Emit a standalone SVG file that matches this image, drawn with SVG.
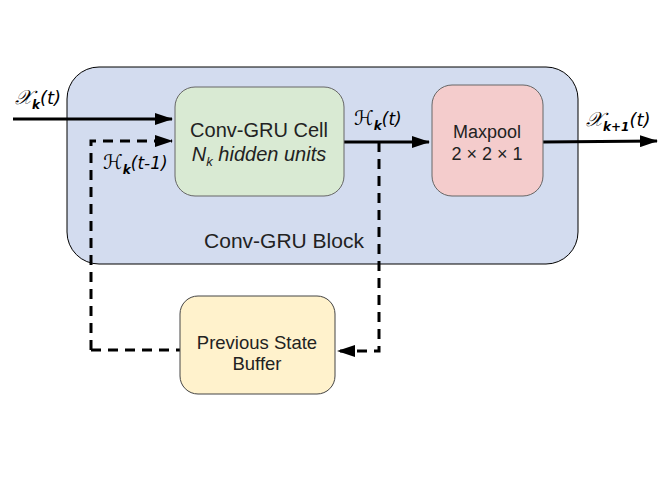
<svg xmlns="http://www.w3.org/2000/svg" width="671" height="496" viewBox="0 0 671 496">
<defs>
<marker id="ahL" markerWidth="18" markerHeight="12" refX="17" refY="6" orient="auto" markerUnits="userSpaceOnUse" viewBox="0 0 18 12">
<path d="M0,0 L18,6 L0,12 Z" fill="#000"/>
</marker>
</defs>
<style>
.t{font-family:"Liberation Sans",Arial,sans-serif;fill:#222;}
.m{font-family:"DejaVu Sans","Liberation Serif",serif;font-style:italic;fill:#000;}
.sol{stroke:#000;stroke-width:3;fill:none;}
.dash{stroke:#000;stroke-width:3;fill:none;stroke-dasharray:10,7;}
</style>
<rect width="671" height="496" fill="#fff"/>
<g id="block">
<rect x="67" y="67" width="511" height="197" rx="32" ry="32" fill="#d3dcef" stroke="#000" stroke-width="1"/>
<text class="t" x="284" y="248" font-size="21" text-anchor="middle">Conv-GRU Block</text>
</g>
<g id="connectors">
<path class="sol" d="M13,119 L172,119" marker-end="url(#ahL)"/>
<path class="dash" d="M91,350 L91,141 L172,141" marker-end="url(#ahL)"/>
<path class="sol" d="M344,142 L429,142" marker-end="url(#ahL)"/>
<path class="sol" d="M543,142 L657,141" marker-end="url(#ahL)"/>
<path class="dash" d="M379,142 L379,351 L338,351" marker-end="url(#ahL)"/>
<path class="dash" d="M91,350 L180,350"/>
</g>
<g id="convgru">
<rect x="175" y="87" width="169" height="109" rx="20" ry="20" fill="#d9ead3" stroke="#666" stroke-width="1"/>
<text class="t" x="259" y="137" font-size="20" text-anchor="middle">Conv-GRU Cell</text>
<text class="t" x="259" y="161" font-size="20" text-anchor="middle" font-style="italic">N<tspan font-size="13" dy="5">k</tspan><tspan dy="-5"> hidden units</tspan></text>
</g>
<g id="maxpool">
<rect x="432" y="85" width="111" height="111" rx="20" ry="20" fill="#f4cccc" stroke="#666" stroke-width="1"/>
<text class="t" x="487" y="138" font-size="18" text-anchor="middle">Maxpool</text>
<text class="t" x="487" y="160" font-size="18" text-anchor="middle">2 × 2 × 1</text>
</g>
<g id="buffer">
<rect x="180" y="296" width="155" height="98" rx="18" ry="18" fill="#fff2cc" stroke="#444" stroke-width="1"/>
<text class="t" x="257" y="349" font-size="18.5" text-anchor="middle">Previous State</text>
<text class="t" x="257" y="370" font-size="18.5" text-anchor="middle">Buffer</text>
</g>
<g id="labels">
<text class="m" x="15" y="104" font-size="20">𝒳<tspan font-size="12" font-weight="bold" dy="5">k</tspan><tspan font-size="18" dy="-5">(t)</tspan></text>
<text class="m" x="103" y="169" font-size="20">ℋ<tspan font-size="12" font-weight="bold" dy="5">k</tspan><tspan font-size="17" dy="-5">(t-1)</tspan></text>
<text class="m" x="354" y="125" font-size="20">ℋ<tspan font-size="12" font-weight="bold" dy="5">k</tspan><tspan font-size="17" dy="-5">(t)</tspan></text>
<text class="m" x="586" y="126" font-size="20">𝒳<tspan font-size="12" font-weight="bold" dy="5">k+1</tspan><tspan font-size="18" dy="-5">(t)</tspan></text>
</g>
</svg>
